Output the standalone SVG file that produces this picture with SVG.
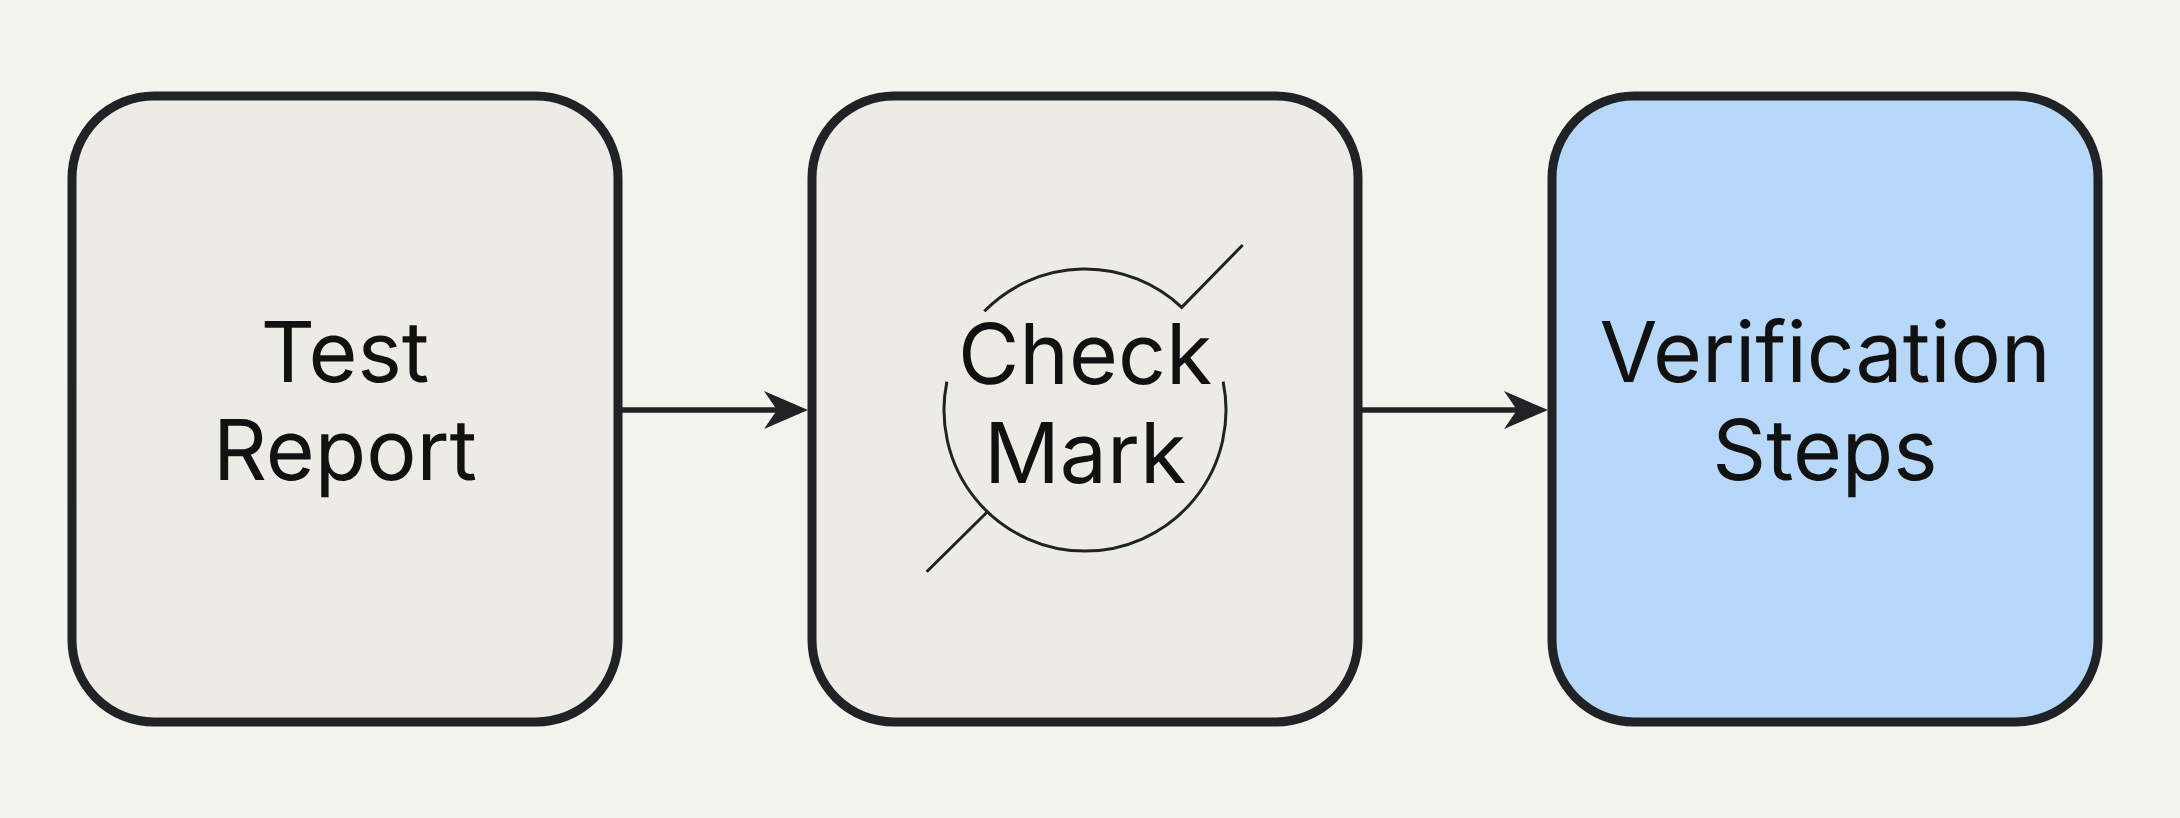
<svg xmlns="http://www.w3.org/2000/svg" width="2180" height="818" viewBox="0 0 2180 818">
  <style>
    .box { stroke: #1f2326; stroke-width: 9; }
    .grey { fill: #ecebe6; }
    .blue { fill: #b7d8f8; }
    .lbl { font-family: Inter, "Liberation Sans", Arial, sans-serif; font-size: 84px; fill: #111111; text-anchor: middle; text-rendering: geometricPrecision; }
    .conn { stroke: #1f2326; stroke-width: 5.5; fill: none; }
    .icon { stroke: #1f2326; stroke-width: 3; fill: none; }
  </style>
  <defs>
    <marker id="arrow" markerUnits="userSpaceOnUse" viewBox="-46 -21 48 42" markerWidth="48" markerHeight="42" refX="-28" refY="0" orient="auto">
      <path d="M0,0 L-44,-19 L-31,0 L-44,19 Z" fill="#1f2326"/>
    </marker>
  </defs>
  <rect width="2180" height="818" fill="#f3f3ee"/>

  <g id="connectors">
    <line class="conn" x1="622" y1="410" x2="780" y2="410" marker-end="url(#arrow)"/>
    <line class="conn" x1="1362" y1="410" x2="1520" y2="410" marker-end="url(#arrow)"/>
  </g>

  <g id="node-test-report">
    <rect class="box grey" x="72" y="96" width="546" height="626" rx="82" ry="82"/>
    <text class="lbl" x="345" y="382">Test</text>
    <text class="lbl" x="345" y="480">Report</text>
  </g>

  <g id="node-check-mark">
    <rect class="box grey" x="812" y="96" width="546" height="626" rx="82" ry="82"/>
    <path class="icon" d="M984.3,311.3 A141,141 0 0 1 1181.7,307.4 L1242.7,245"/>
    <path class="icon" d="M1223.1,381.6 A141,141 0 1 1 946.9,381.6"/>
    <line class="icon" x1="926.7" y1="571.7" x2="987.4" y2="511.8"/>
    <text class="lbl" x="1085" y="384">Check</text>
    <text class="lbl" x="1085" y="483">Mark</text>
  </g>

  <g id="node-verification-steps">
    <rect class="box blue" x="1552" y="96" width="546" height="626" rx="82" ry="82"/>
    <text class="lbl" x="1825" y="382">Verification</text>
    <text class="lbl" x="1825" y="480">Steps</text>
  </g>
</svg>
